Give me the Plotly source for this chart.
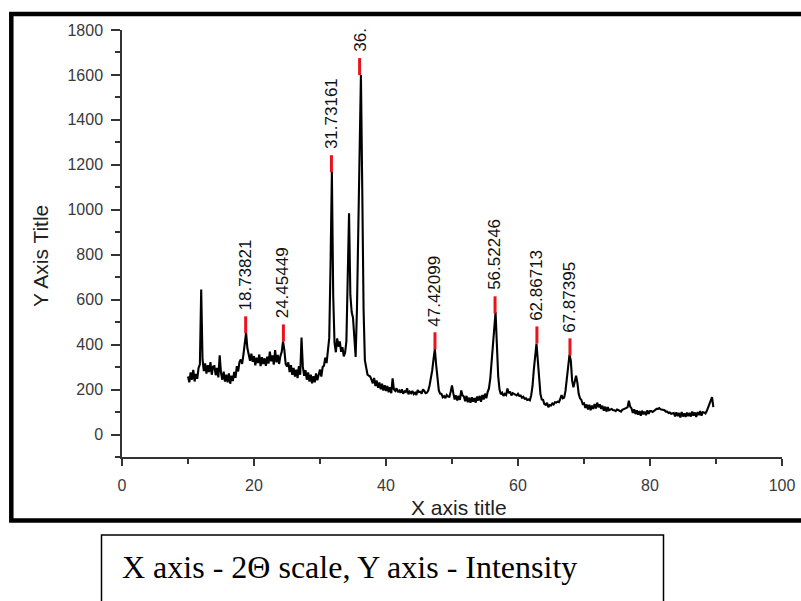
import plotly.graph_objects as go

# ---- data ----
two_theta = [
    10.0, 10.2, 10.4, 10.6, 10.8, 11.0, 11.2, 11.4, 11.6, 11.8,
    12.0, 12.2, 12.4, 12.6, 12.8, 13.0, 13.2, 13.4, 13.6, 13.8,
    14.0, 14.2, 14.4, 14.6, 14.8, 15.0, 15.2, 15.4, 15.6, 15.8,
    16.0, 16.2, 16.4, 16.6, 16.8, 17.0, 17.2, 17.4, 17.6, 17.8,
    18.0, 18.2, 18.4, 18.6, 18.8, 19.0, 19.2, 19.4, 19.6, 19.8,
    20.0, 20.2, 20.4, 20.6, 20.8, 21.0, 21.2, 21.4, 21.6, 21.8,
    22.0, 22.2, 22.4, 22.6, 22.8, 23.0, 23.2, 23.4, 23.6, 23.8,
    24.0, 24.2, 24.4, 24.6, 24.8, 25.0, 25.2, 25.4, 25.6, 25.8,
    26.0, 26.2, 26.4, 26.6, 26.8, 27.0, 27.2, 27.4, 27.6, 27.8,
    28.0, 28.2, 28.4, 28.6, 28.8, 29.0, 29.2, 29.4, 29.6, 29.8,
    30.0, 30.2, 30.4, 30.6, 30.8, 31.0, 31.2, 31.4, 31.6, 31.8,
    32.0, 32.2, 32.4, 32.6, 32.8, 33.0, 33.2, 33.4, 33.6, 33.8,
    34.0, 34.2, 34.4, 34.6, 34.8, 35.0, 35.2, 35.4, 35.6, 35.8,
    36.0, 36.2, 36.4, 36.6, 36.8, 37.0, 37.2, 37.4, 37.6, 37.8,
    38.0, 38.2, 38.4, 38.6, 38.8, 39.0, 39.2, 39.4, 39.6, 39.8,
    40.0, 40.2, 40.4, 40.6, 40.8, 41.0, 41.2, 41.4, 41.6, 41.8,
    42.0, 42.2, 42.4, 42.6, 42.8, 43.0, 43.2, 43.4, 43.6, 43.8,
    44.0, 44.2, 44.4, 44.6, 44.8, 45.0, 45.2, 45.4, 45.6, 45.8,
    46.0, 46.2, 46.4, 46.6, 46.8, 47.0, 47.2, 47.4, 47.6, 47.8,
    48.0, 48.2, 48.4, 48.6, 48.8, 49.0, 49.2, 49.4, 49.6, 49.8,
    50.0, 50.2, 50.4, 50.6, 50.8, 51.0, 51.2, 51.4, 51.6, 51.8,
    52.0, 52.2, 52.4, 52.6, 52.8, 53.0, 53.2, 53.4, 53.6, 53.8,
    54.0, 54.2, 54.4, 54.6, 54.8, 55.0, 55.2, 55.4, 55.6, 55.8,
    56.0, 56.2, 56.4, 56.6, 56.8, 57.0, 57.2, 57.4, 57.6, 57.8,
    58.0, 58.2, 58.4, 58.6, 58.8, 59.0, 59.2, 59.4, 59.6, 59.8,
    60.0, 60.2, 60.4, 60.6, 60.8, 61.0, 61.2, 61.4, 61.6, 61.8,
    62.0, 62.2, 62.4, 62.6, 62.8, 63.0, 63.2, 63.4, 63.6, 63.8,
    64.0, 64.2, 64.4, 64.6, 64.8, 65.0, 65.2, 65.4, 65.6, 65.8,
    66.0, 66.2, 66.4, 66.6, 66.8, 67.0, 67.2, 67.4, 67.6, 67.8,
    68.0, 68.2, 68.4, 68.6, 68.8, 69.0, 69.2, 69.4, 69.6, 69.8,
    70.0, 70.2, 70.4, 70.6, 70.8, 71.0, 71.2, 71.4, 71.6, 71.8,
    72.0, 72.2, 72.4, 72.6, 72.8, 73.0, 73.2, 73.4, 73.6, 73.8,
    74.0, 74.2, 74.4, 74.6, 74.8, 75.0, 75.2, 75.4, 75.6, 75.8,
    76.0, 76.2, 76.4, 76.6, 76.8, 77.0, 77.2, 77.4, 77.6, 77.8,
    78.0, 78.2, 78.4, 78.6, 78.8, 79.0, 79.2, 79.4, 79.6, 79.8,
    80.0, 80.2, 80.4, 80.6, 80.8, 81.0, 81.2, 81.4, 81.6, 81.8,
    82.0, 82.2, 82.4, 82.6, 82.8, 83.0, 83.2, 83.4, 83.6, 83.8,
    84.0, 84.2, 84.4, 84.6, 84.8, 85.0, 85.2, 85.4, 85.6, 85.8,
    86.0, 86.2, 86.4, 86.6, 86.8, 87.0, 87.2, 87.4, 87.6, 87.8,
    88.0, 88.2, 88.4, 88.6, 88.8, 89.0, 89.2, 89.4, 89.6,
]

intensity = [
    258, 232, 276, 244, 288, 236, 270, 248, 296, 312,
    645, 334, 282, 316, 271, 309, 278, 322, 266, 302,
    304, 264, 296, 254, 352, 274, 244, 280, 236, 266,
    232, 272, 226, 262, 238, 279, 252, 304, 281, 322,
    334, 314, 356, 395, 452, 384, 346, 328, 360, 324,
    349, 308, 342, 318, 356, 304, 344, 314, 339, 306,
    346, 316, 369, 326, 352, 311, 376, 321, 354, 314,
    349, 368, 414, 376, 314, 302, 321, 278, 309, 266,
    296, 258, 289, 251, 304, 266, 432, 302, 261, 286,
    244, 276, 236, 266, 228, 259, 232, 272, 241, 266,
    289, 258, 300, 306, 342, 318, 364, 430, 760, 1168,
    620, 409, 366, 428, 391, 414, 368, 389, 348, 364,
    415, 690, 984, 620, 545, 520, 430, 345, 560, 980,
    1350, 1600, 1100, 560, 330, 299, 266, 262, 258, 244,
    228, 252, 216, 240, 208, 232, 201, 226, 196, 219,
    194, 216, 188, 210, 184, 250, 201, 194, 206, 189,
    196, 186, 201, 182, 192, 189, 206, 179, 191, 184,
    194, 180, 186, 176, 198, 189, 190, 182, 201, 194,
    184, 186, 196, 218, 245, 285, 335, 380, 310, 240,
    196, 182, 181, 166, 171, 162, 176, 169, 168, 190,
    218, 184, 156, 174, 151, 172, 154, 196, 174, 169,
    148, 172, 144, 164, 141, 166, 146, 162, 142, 169,
    151, 172, 146, 176, 156, 182, 161, 189, 205, 250,
    330, 420, 500, 545, 400, 260, 200, 179, 186, 172,
    181, 176, 205, 184, 191, 174, 184, 180, 178, 174,
    181, 172, 174, 164, 168, 159, 161, 154, 156, 152,
    175, 215, 290, 360, 405, 330, 240, 180, 156, 154,
    136, 132, 141, 122, 131, 129, 138, 134, 144, 142,
    146, 144, 158, 175, 161, 164, 195, 250, 320, 355,
    330, 240, 210, 245, 262, 230, 180, 161, 154, 136,
    139, 118, 134, 111, 132, 108, 129, 114, 136, 116,
    142, 121, 134, 114, 128, 106, 124, 102, 122, 108,
    112, 114, 108, 108, 104, 111, 109, 106, 102, 110,
    112, 114, 116, 121, 150, 124, 116, 96, 112, 91,
    108, 88, 104, 84, 106, 90, 102, 86, 108, 92,
    104, 104, 100, 106, 108, 114, 114, 118, 112, 111,
    109, 108, 102, 102, 96, 98, 92, 94, 96, 81,
    99, 82, 96, 76, 100, 80, 94, 78, 98, 82,
    96, 80, 102, 84, 98, 78, 100, 86, 104, 84,
    99, 98, 94, 104, 120, 138, 150, 166, 122,
]

peak_2theta = [18.73821, 24.45449, 31.73161, 36.0, 47.42099, 56.52246, 62.86713, 67.87395]
peak_height = [450, 414, 1167, 1599, 379, 539, 405, 352]
peak_labels = ["18.73821", "24.45449", "31.73161", "36.", "47.42099", "56.52246", "62.86713", "67.87395"]
peak_marker_len = 76

x_ticks = [0, 20, 40, 60, 80, 100]
y_ticks = [0, 200, 400, 600, 800, 1000, 1200, 1400, 1600, 1800]

# ---- figure ----
fig = go.Figure()

fig.add_trace(go.Scatter(
    x=two_theta, y=intensity, mode="lines",
    line=dict(color="black", width=2.1), showlegend=False, hoverinfo="skip",
))

# red peak markers (vertical segments above each labelled peak)
mx, my = [], []
for p, h in zip(peak_2theta, peak_height):
    mx += [p, p, None]
    my += [h, h + peak_marker_len, None]
fig.add_trace(go.Scatter(
    x=mx, y=my, mode="lines",
    line=dict(color="#e8141c", width=3), showlegend=False, hoverinfo="skip",
))

for p, h, lab in zip(peak_2theta, peak_height, peak_labels):
    fig.add_annotation(
        x=p, y=h + peak_marker_len, text=lab, textangle=-90,
        xanchor="center", yanchor="bottom", showarrow=False, yshift=4,
        font=dict(family="Liberation Sans, Arial", size=17, color="#111111"),
    )

axis_common = dict(
    showline=True, linecolor="#333333", linewidth=1.5,
    ticks="outside", tickcolor="#333333", tickwidth=1.5,
    showgrid=False, zeroline=False, automargin=False,
    tickfont=dict(family="Liberation Sans, Arial", size=16, color="#3a3a3a"),
)

fig.update_xaxes(
    range=[0, 100], tickvals=x_ticks, ticklen=7,
    minor=dict(ticks="outside", dtick=10, tick0=0, ticklen=5, tickcolor="#333333", tickwidth=1.5),
    ticklabelstandoff=6,
    **axis_common,
)
fig.update_yaxes(
    range=[-100, 1800], tickvals=y_ticks, ticklen=9,
    minor=dict(ticks="outside", dtick=100, tick0=0, ticklen=5, tickcolor="#333333", tickwidth=1.5),
    ticklabelstandoff=5,
    **axis_common,
)

# axis titles
fig.add_annotation(
    xref="paper", yref="paper", x=0.5106, y=-0.1194, text="X axis title",
    showarrow=False, xanchor="center", yanchor="middle",
    font=dict(family="Liberation Sans, Arial", size=21, color="#222222"),
)
fig.add_annotation(
    xref="paper", yref="paper", x=-0.1242, y=0.4707, text="Y Axis Title",
    textangle=-90, showarrow=False, xanchor="center", yanchor="middle",
    font=dict(family="Liberation Sans, Arial", size=21, color="#222222"),
)

# outer black frame (right edge runs off the picture)
fig.add_shape(
    type="rect", xref="paper", yref="paper",
    x0=(11.3 - 122) / 660, x1=(815 - 122) / 660,
    y0=(457 - 520.5) / 427, y1=(457 - 14) / 427,
    line=dict(color="black", width=4.5), fillcolor="rgba(0,0,0,0)", layer="above",
)

# caption box below
fig.add_shape(
    type="rect", xref="paper", yref="paper",
    x0=(101.5 - 122) / 660, x1=(663.5 - 122) / 660,
    y0=(457 - 535) / 427, y1=(457 - 612) / 427,
    line=dict(color="black", width=1.5), fillcolor="rgba(0,0,0,0)",
)
fig.add_annotation(
    xref="paper", yref="paper", x=(120 - 122) / 660, y=(457 - 567) / 427,
    text="X axis - 2Θ scale, Y axis - Intensity",
    showarrow=False, xanchor="left", yanchor="middle",
    font=dict(family="Liberation Serif, Times New Roman", size=32, color="black"),
)

fig.update_layout(
    width=801, height=601,
    margin=dict(l=122, r=19, t=30, b=144, autoexpand=False),
    paper_bgcolor="white", plot_bgcolor="white",
    showlegend=False,
)

fig.write_html(
    "out.html",
    config={"displayModeBar": False},
    post_script="document.body.style.margin='0';document.body.style.overflow='hidden';",
)
